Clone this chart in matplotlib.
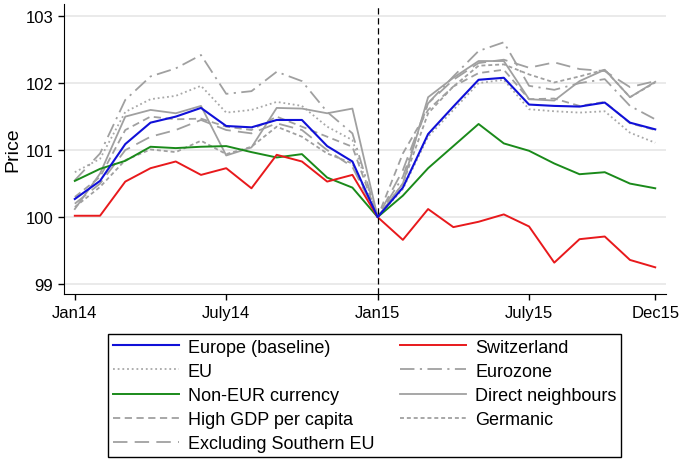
import matplotlib
matplotlib.use('Agg')
from matplotlib import pyplot as plt
import numpy as np

plt.rcParams['font.family'] = ['Liberation Sans', 'DejaVu Sans']

# Months Jan14 .. Dec15
months = list(range(24))
tick_pos = [0, 6, 12, 18, 23]
tick_labels = ['Jan14', 'July14', 'Jan15', 'July15', 'Dec15']

# Price index series
europe = [100.27, 100.54, 101.09, 101.41, 101.50, 101.63, 101.36, 101.34, 101.45, 101.45, 101.06, 100.83,
          100.00, 100.44, 101.24, 101.65, 102.05, 102.08, 101.68, 101.66, 101.65, 101.71, 101.41, 101.31]
switzerland = [100.02, 100.02, 100.53, 100.73, 100.83, 100.63, 100.73, 100.43, 100.93, 100.83, 100.53, 100.63,
               100.00, 99.66, 100.12, 99.85, 99.93, 100.04, 99.86, 99.32, 99.67, 99.71, 99.36, 99.25]
non_eur = [100.54, 100.72, 100.84, 101.05, 101.03, 101.05, 101.06, 100.97, 100.89, 100.94, 100.59, 100.44,
           100.00, 100.32, 100.73, 101.06, 101.39, 101.10, 100.99, 100.80, 100.64, 100.67, 100.50, 100.43]
eu = [100.67, 100.87, 101.57, 101.76, 101.81, 101.96, 101.56, 101.60, 101.72, 101.66, 101.35, 101.15,
      100.00, 100.42, 101.20, 101.60, 102.00, 102.05, 101.61, 101.58, 101.56, 101.58, 101.26, 101.11]
eurozone = [100.55, 100.95, 101.75, 102.10, 102.22, 102.42, 101.84, 101.88, 102.17, 102.03, 101.57, 101.25,
            100.00, 100.60, 101.70, 102.10, 102.48, 102.61, 101.96, 101.90, 102.00, 102.06, 101.66, 101.46]
neighbours = [100.12, 100.65, 101.50, 101.60, 101.55, 101.66, 100.92, 101.04, 101.63, 101.62, 101.55, 101.62,
              100.00, 100.50, 101.79, 102.08, 102.33, 102.33, 101.76, 101.74, 102.03, 102.20, 101.79, 102.02]
high_gdp = [100.30, 100.60, 101.30, 101.50, 101.46, 101.47, 101.35, 101.30, 101.50, 101.35, 101.20, 101.05,
            100.00, 100.95, 101.60, 101.95, 102.15, 102.20, 101.76, 101.77, 101.66, 101.72, 101.40, 101.30]
germanic = [100.15, 100.45, 100.85, 101.01, 100.97, 101.14, 100.94, 101.05, 101.35, 101.20, 100.95, 100.80,
            100.00, 100.50, 101.55, 101.95, 102.26, 102.28, 102.13, 102.01, 102.10, 102.20, 101.79, 102.01]
excl_south = [100.20, 100.50, 101.00, 101.20, 101.30, 101.45, 101.30, 101.25, 101.40, 101.30, 101.00, 100.75,
              100.00, 100.70, 101.70, 102.05, 102.30, 102.35, 102.23, 102.31, 102.21, 102.18, 101.94, 102.03]

fig = plt.figure(figsize=(6.85, 4.64), dpi=100)
ax = fig.add_axes([0.093, 0.364, 0.879, 0.625])

# Light horizontal grid
for y in [99, 100, 101, 102, 103]:
    ax.axhline(y, color='#e8e8e8', lw=1.3, zorder=0)

gray = '#a0a0a0'
h_eu, = ax.plot(months, eu, color='#a8a8a8', lw=1.3, ls=(0, (1, 1.6)))
h_ez, = ax.plot(months, eurozone, color=gray, lw=1.3, ls=(0, (8, 3, 1.2, 3)))
h_dn, = ax.plot(months, neighbours, color=gray, lw=1.3, ls='-')
h_hg, = ax.plot(months, high_gdp, color=gray, lw=1.3, ls=(0, (4, 2.5)))
h_ge, = ax.plot(months, germanic, color=gray, lw=1.3, ls=(0, (2.2, 1.6)))
h_ex, = ax.plot(months, excl_south, color=gray, lw=1.3, ls=(0, (8, 4)))
h_ne, = ax.plot(months, non_eur, color='#1a8a1a', lw=1.4)
h_ch, = ax.plot(months, switzerland, color='#e8191c', lw=1.4)
h_eur, = ax.plot(months, europe, color='#1010d8', lw=1.5)

# Vertical marker at Jan15
ax.axvline(12, color='black', lw=0.9, ls=(0, (5, 3)))

ax.set_xlim(-0.44, 23.42)
ax.set_ylim(98.85, 103.18)
ax.set_xticks(tick_pos)
ax.set_xticklabels(tick_labels, fontsize=12)
ax.set_yticks([99, 100, 101, 102, 103])
ax.set_yticklabels(['99', '100', '101', '102', '103'], fontsize=12)
ax.set_ylabel('Price', fontsize=14, labelpad=3)
ax.spines['top'].set_visible(False)
ax.spines['right'].set_visible(False)
ax.tick_params(direction='out', length=4, width=1)

# Legend below the plot
handles = [h_eur, h_eu, h_ne, h_hg, h_ex, h_ch, h_ez, h_dn, h_ge]
labels = ['Europe (baseline)', 'EU', 'Non-EUR currency', 'High GDP per capita', 'Excluding Southern EU',
          'Switzerland', 'Eurozone', 'Direct neighbours', 'Germanic']
leg = fig.legend(handles, labels, loc='upper left', bbox_to_anchor=(0.158, 0.01, 0.749, 0.268),
                 mode='expand', ncol=2, fontsize=13, handlelength=3.65, handletextpad=0.5,
                 labelspacing=0.4, borderaxespad=0, borderpad=0.25,
                 fancybox=False, edgecolor='black', framealpha=1)
leg.get_frame().set_linewidth(1.0)

plt.savefig('out.png', dpi=100)
